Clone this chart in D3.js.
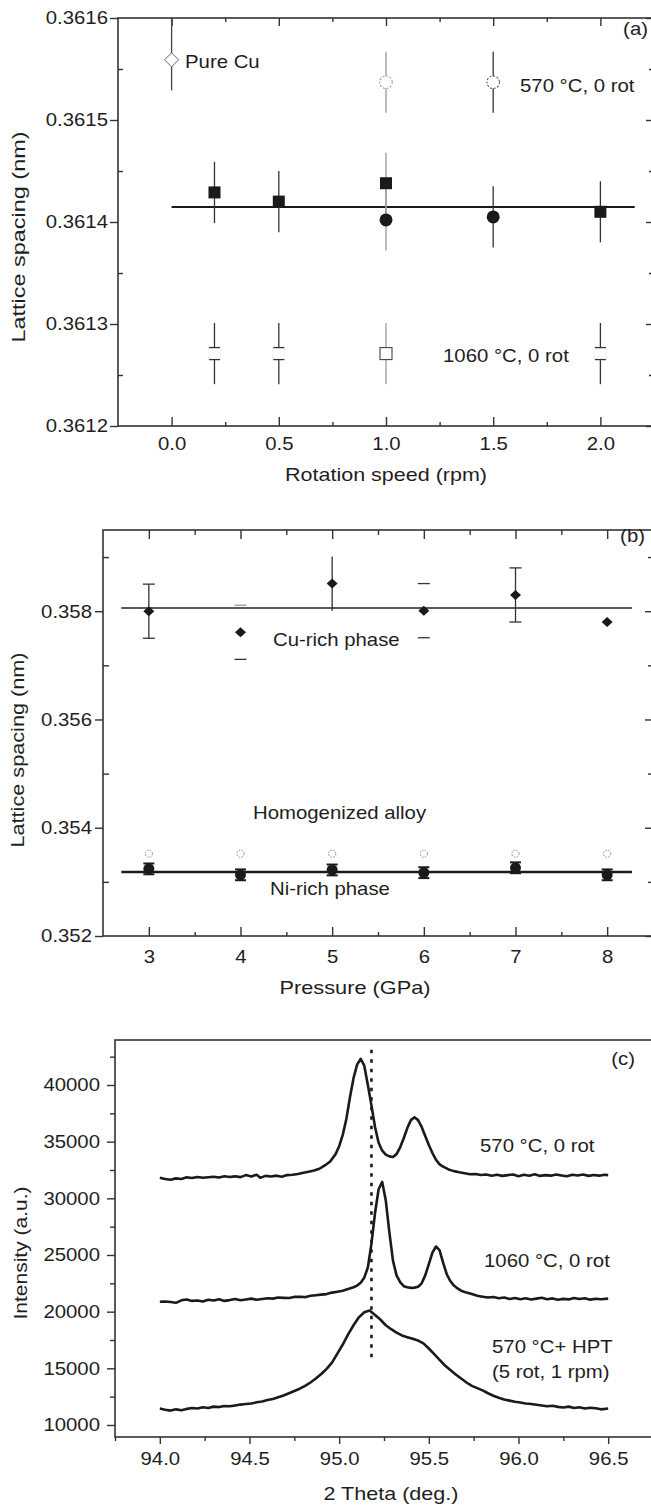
<!DOCTYPE html>
<html>
<head>
<meta charset="utf-8">
<script src="https://cdn.jsdelivr.net/npm/d3@7"></script>
<style>
body { margin: 0; background: #fff; }
svg text { font-family: "Liberation Sans", Arial, sans-serif; font-size: 18.5px; fill: #1e1e1e; }
</style>
</head>
<body>
<svg id="fig" width="651" height="1508"></svg>
<script>
// ---- panel (a) data : lattice spacing vs rotation speed
var aPureX = [0.0], aPureY = [0.361559], aPureErr = [0.00003]
var aSqX = [0.2, 0.5, 1.0, 2.0], aSqY = [0.361429, 0.36142, 0.361438, 0.36141], aSqErr = [0.00003, 0.00003, 0.00003, 0.00003]
var aCirX = [1.0, 1.5], aCirY = [0.361402, 0.361405], aCirErr = [0.00003, 0.00003]
var a570X = [1.0, 1.5], a570Y = [0.361537, 0.361537], a570Err = [0.00003, 0.00003]
var a1060X = [0.2, 0.5, 1.0, 2.0], a1060Y = [0.361271, 0.361271, 0.361271, 0.361271], a1060Err = [0.00003, 0.00003, 0.00003, 0.00003]
var aMean = 0.3614147, aMeanFrom = 0.0, aMeanTo = 2.16
var aYTicks = [0.3612, 0.3613, 0.3614, 0.3615, 0.3616]
var aXTicks = [0.0, 0.5, 1.0, 1.5, 2.0]

// ---- panel (b) data : lattice spacing vs pressure
var bP = [3, 4, 5, 6, 7, 8]
var bCu = [0.358, 0.35761, 0.35851, 0.35801, 0.3583, 0.3578]
var bCuErr = [0.0005, 0.0005, 0.0005, 0.0005, 0.0005, 0]
var bNi = [0.35324, 0.35313, 0.35322, 0.35317, 0.35326, 0.35313]
var bNiErr = [0.0001, 0.0001, 0.0001, 0.0001, 0.0001, 0.0001]
var bHom = [0.35352, 0.35352, 0.35352, 0.35352, 0.35352, 0.35352]
var bCuMean = 0.358059, bNiMean = 0.353182, bMeanFrom = 2.7, bMeanTo = 8.27
var bYTicks = [0.352, 0.354, 0.356, 0.358]

// ---- panel (c) data : XRD profiles [2 theta, intensity]
var xrd570 = [[94.00,31820],[94.03,31700],[94.06,31640],[94.09,31760],[94.12,31700],[94.15,31850],[94.18,31800],[94.21,31880],[94.24,31820],[94.27,31860],[94.30,31900],[94.33,31840],[94.36,31950],[94.39,31880],[94.42,31940],[94.45,31870],[94.48,32050],[94.51,31920],[94.54,32080],[94.56,31820],[94.59,31980],[94.62,31930],[94.65,32000],[94.68,31900],[94.71,32050],[94.74,32080],[94.77,32150],[94.80,32250],[94.83,32350],[94.86,32450],[94.89,32610],[94.92,32900],[94.95,33250],[94.98,33900],[95.00,34600],[95.02,35600],[95.04,37000],[95.06,38900],[95.08,40600],[95.10,41800],[95.12,42300],[95.14,41700],[95.16,40000],[95.18,38200],[95.20,36300],[95.22,34900],[95.24,34200],[95.26,33850],[95.28,33700],[95.30,33650],[95.32,33900],[95.34,34500],[95.36,35300],[95.38,36200],[95.40,36900],[95.42,37150],[95.44,36900],[95.46,36300],[95.48,35500],[95.50,34700],[95.52,34000],[95.54,33400],[95.56,33000],[95.58,32800],[95.61,32550],[95.64,32400],[95.67,32300],[95.70,32220],[95.73,32120],[95.76,32150],[95.79,32060],[95.82,32100],[95.85,32000],[95.88,32080],[95.91,31980],[95.94,32050],[95.97,32100],[96.00,31950],[96.03,32080],[96.06,32000],[96.09,32120],[96.12,31980],[96.15,32050],[96.18,32000],[96.21,32100],[96.24,32020],[96.27,31950],[96.30,32080],[96.33,32010],[96.36,32100],[96.39,31980],[96.42,32060],[96.45,32000],[96.48,32080],[96.50,32050]]
var xrd1060 = [[94.00,20880],[94.03,20900],[94.06,20850],[94.09,20780],[94.12,21000],[94.15,21080],[94.18,20950],[94.21,20980],[94.24,20900],[94.27,21050],[94.30,20980],[94.33,21100],[94.36,20950],[94.39,21020],[94.42,21120],[94.45,21000],[94.48,21080],[94.51,21150],[94.54,21050],[94.57,21120],[94.60,21180],[94.63,21150],[94.66,21250],[94.69,21220],[94.72,21200],[94.75,21300],[94.78,21320],[94.81,21280],[94.84,21400],[94.87,21450],[94.90,21500],[94.93,21550],[94.96,21680],[94.99,21760],[95.02,21850],[95.05,22000],[95.08,22150],[95.10,22300],[95.12,22550],[95.14,23000],[95.16,23900],[95.18,26000],[95.20,28700],[95.22,30800],[95.24,31450],[95.26,29800],[95.28,27000],[95.30,24500],[95.32,23200],[95.34,22600],[95.36,22250],[95.38,22150],[95.40,22100],[95.42,22120],[95.44,22200],[95.46,22500],[95.48,23200],[95.50,24200],[95.52,25200],[95.54,25750],[95.56,25400],[95.58,24300],[95.60,23300],[95.62,22700],[95.64,22300],[95.66,22050],[95.68,21850],[95.71,21680],[95.74,21550],[95.77,21400],[95.80,21320],[95.83,21250],[95.86,21300],[95.89,21180],[95.92,21250],[95.95,21120],[95.98,21200],[96.01,21100],[96.04,21180],[96.07,21080],[96.10,21150],[96.13,21220],[96.16,21100],[96.19,21170],[96.22,21050],[96.25,21130],[96.28,21080],[96.31,21200],[96.34,21120],[96.37,21180],[96.40,21060],[96.43,21140],[96.46,21100],[96.50,21150]]
var xrdHpt = [[94.00,11450],[94.03,11350],[94.06,11270],[94.09,11380],[94.12,11300],[94.15,11420],[94.18,11500],[94.21,11450],[94.24,11560],[94.27,11500],[94.30,11620],[94.33,11580],[94.36,11680],[94.39,11650],[94.42,11720],[94.45,11800],[94.48,11850],[94.51,11900],[94.54,12000],[94.57,12080],[94.60,12200],[94.63,12300],[94.66,12450],[94.69,12600],[94.72,12800],[94.75,13000],[94.78,13200],[94.81,13450],[94.84,13750],[94.87,14100],[94.90,14500],[94.93,14950],[94.96,15500],[94.99,16300],[95.02,17100],[95.05,18000],[95.08,18800],[95.11,19500],[95.14,19950],[95.17,20100],[95.20,19700],[95.23,19300],[95.26,18800],[95.29,18450],[95.32,18150],[95.35,17900],[95.38,17750],[95.41,17600],[95.44,17450],[95.47,17200],[95.50,16750],[95.53,16250],[95.56,15750],[95.59,15250],[95.62,14850],[95.65,14450],[95.68,14100],[95.71,13750],[95.74,13450],[95.77,13250],[95.80,13050],[95.83,12800],[95.86,12580],[95.89,12400],[95.92,12250],[95.95,12150],[95.98,12050],[96.01,11980],[96.04,11900],[96.07,11850],[96.10,11780],[96.13,11720],[96.16,11650],[96.19,11700],[96.22,11600],[96.25,11550],[96.28,11620],[96.31,11500],[96.34,11560],[96.37,11450],[96.40,11520],[96.43,11480],[96.46,11380],[96.50,11450]]
var cMarkX = 95.18, cMarkFrom = 15950, cMarkTo = 43100
var cXTicks = [94.0, 94.5, 95.0, 95.5, 96.0, 96.5]
var cYTicks = [10000, 15000, 20000, 25000, 30000, 35000, 40000]

var svg = d3.select('#fig')
var defs = svg.append('defs')
var ink = '#1a1a1a', axisCol = '#333'

function noDomain(g){ g.select('.domain').remove() }

function styleTicks(g){
  g.selectAll('.tick line').attr('stroke', axisCol).attr('stroke-width', 1.4)
}

function addAxis(g, axis, tx, ty){
  return g.append('g')
    .attr('transform', 'translate(' + tx + ',' + ty + ')')
    .call(axis).call(noDomain).call(styleTicks)
}

function frame(g, x0, y0, x1, y1){
  g.append('rect').attr('x', x0).attr('y', y0).attr('width', x1 - x0).attr('height', y1 - y0)
    .attr('fill', 'none').attr('stroke', axisCol).attr('stroke-width', 1.6)
}

function clip(id, x0, y0, x1, y1){
  defs.append('clipPath').attr('id', id).append('rect')
    .attr('x', x0).attr('y', y0).attr('width', x1 - x0).attr('height', y1 - y0)
}

function label(g, txt, x, y, anchor){
  return g.append('text').attr('x', x).attr('y', y).attr('text-anchor', anchor || 'start').text(txt)
}

function vline(g, x, y1, y2, col, w){
  g.append('line').attr('x1', x).attr('x2', x).attr('y1', y1).attr('y2', y2)
    .attr('stroke', col).attr('stroke-width', w)
}
function hline(g, x1, x2, y, col, w){
  g.append('line').attr('x1', x1).attr('x2', x2).attr('y1', y).attr('y2', y)
    .attr('stroke', col).attr('stroke-width', w)
}

// ================= panel (a)
var aL = 118, aT = 18, aR = 654, aB = 426
var ax = d3.scaleLinear().domain([-0.25, 2.25]).range([aL, aR])
var ay = d3.scaleLinear().domain([0.3612, 0.3616]).range([aB, aT])
var ga = svg.append('g')
clip('clipA', aL, aT, aR, aB)

addAxis(ga, d3.axisBottom(ax).tickValues(aXTicks).tickSize(-9).tickPadding(11).tickFormat(d3.format('.1f')), 0, aB)
addAxis(ga, d3.axisBottom(ax).tickValues([0.25, 0.75, 1.25, 1.75]).tickSize(-4).tickFormat(''), 0, aB)
addAxis(ga, d3.axisTop(ax).tickValues(aXTicks).tickSize(-8).tickFormat(''), 0, aT)
addAxis(ga, d3.axisTop(ax).tickValues([0.25, 0.75, 1.25, 1.75]).tickSize(-4).tickFormat(''), 0, aT)
addAxis(ga, d3.axisLeft(ay).tickValues(aYTicks).tickSize(8).tickPadding(2).tickFormat(d3.format('.4f')), aL, 0)
addAxis(ga, d3.axisLeft(ay).tickValues([0.36125, 0.36135, 0.36145, 0.36155]).tickSize(-5).tickFormat(''), aL, 0)
addAxis(ga, d3.axisRight(ay).tickValues(aYTicks).tickSize(-8).tickFormat(''), aR, 0)
addAxis(ga, d3.axisRight(ay).tickValues([0.36125, 0.36135, 0.36145, 0.36155]).tickSize(-5).tickFormat(''), aR, 0)
frame(ga, aL, aT, aR, aB)

var pa = ga.append('g').attr('clip-path', 'url(#clipA)')
hline(pa, ax(aMeanFrom), ax(aMeanTo), ay(aMean), ink, 2)

function errCol(x){ return x === 1.0 ? '#9a9a9a' : '#333' }

// error bars
aPureX.forEach(function(x, i){ vline(pa, ax(x), ay(aPureY[i] - aPureErr[i]), ay(aPureY[i] + aPureErr[i]) - 20, '#444', 1.3) })
aSqX.forEach(function(x, i){ vline(pa, ax(x), ay(aSqY[i] - aSqErr[i]), ay(aSqY[i] + aSqErr[i]), errCol(x), 1.3) })
aCirX.forEach(function(x, i){ vline(pa, ax(x), ay(aCirY[i] - aCirErr[i]), ay(aCirY[i] + aCirErr[i]), errCol(x), 1.3) })
a570X.forEach(function(x, i){ vline(pa, ax(x), ay(a570Y[i] - a570Err[i]), ay(a570Y[i] + a570Err[i]), errCol(x), 1.3) })
a1060X.forEach(function(x, i){ vline(pa, ax(x), ay(a1060Y[i] - a1060Err[i]), ay(a1060Y[i] + a1060Err[i]), errCol(x), 1.3) })

// markers
aPureX.forEach(function(x, i){
  var cx = ax(x), cy = ay(aPureY[i]), h = 7
  pa.append('path').attr('d', 'M' + (cx - h) + ',' + cy + 'L' + cx + ',' + (cy - h) + 'L' + (cx + h) + ',' + cy + 'L' + cx + ',' + (cy + h) + 'Z')
    .attr('fill', '#fff').attr('stroke', '#666').attr('stroke-width', 1)
})
aSqX.forEach(function(x, i){
  pa.append('rect').attr('x', ax(x) - 6).attr('y', ay(aSqY[i]) - 6).attr('width', 12).attr('height', 12).attr('fill', ink)
})
aCirX.forEach(function(x, i){
  pa.append('circle').attr('cx', ax(x)).attr('cy', ay(aCirY[i])).attr('r', 6.5).attr('fill', ink)
})
a570X.forEach(function(x, i){
  pa.append('circle').attr('cx', ax(x)).attr('cy', ay(a570Y[i])).attr('r', 6.3)
    .attr('fill', '#fff').attr('stroke', x === 1.0 ? '#999' : '#555').attr('stroke-width', 1.1).attr('stroke-dasharray', '2,1.6')
})
a1060X.forEach(function(x, i){
  var cx = ax(x), cy = ay(a1060Y[i]), h = 6
  pa.append('rect').attr('x', cx - h).attr('y', cy - h).attr('width', 2 * h).attr('height', 2 * h)
    .attr('fill', '#fff').attr('stroke', x === 1.0 ? '#444' : '#f2f2f2').attr('stroke-width', 1.1)
  if (x !== 1.0) {
    hline(pa, cx - 5.5, cx + 5.5, cy - h, '#333', 1.3)
    hline(pa, cx - 5.5, cx + 5.5, cy + h, '#333', 1.3)
  }
})

label(ga, 'Pure Cu', 185, 68)
label(ga, '570 °C, 0 rot', 520, 92)
label(ga, '1060 °C, 0 rot', 443, 362)
label(ga, '(a)', 648, 35, 'end')
label(ga, 'Rotation speed (rpm)', 386, 481, 'middle').attr('data-w', 202)
ga.append('text').attr('transform', 'translate(25,237) rotate(-90)').attr('text-anchor', 'middle')
  .attr('data-w', 211).text('Lattice spacing (nm)')

// ================= panel (b)
var bL = 103, bT = 530, bR = 653, bB = 936
var bx = d3.scaleLinear().domain([2.5, 8.5]).range([bL, bR])
var by = d3.scaleLinear().domain([0.352, 0.3595]).range([bB, bT])
var gb = svg.append('g')
clip('clipB', bL, bT, bR, bB)

addAxis(gb, d3.axisBottom(bx).tickValues(bP).tickSize(-9).tickPadding(14).tickFormat(d3.format('d')), 0, bB)
addAxis(gb, d3.axisBottom(bx).tickValues([3.5, 4.5, 5.5, 6.5, 7.5]).tickSize(-4).tickFormat(''), 0, bB)
addAxis(gb, d3.axisTop(bx).tickValues(bP).tickSize(-9).tickFormat(''), 0, bT)
addAxis(gb, d3.axisTop(bx).tickValues([3.5, 4.5, 5.5, 6.5, 7.5]).tickSize(-5).tickFormat(''), 0, bT)
addAxis(gb, d3.axisLeft(by).tickValues(bYTicks).tickSize(8).tickPadding(3).tickFormat(d3.format('.3f')), bL, 0)
addAxis(gb, d3.axisLeft(by).tickValues([0.353, 0.355, 0.357, 0.359]).tickSize(-6).tickFormat(''), bL, 0)
addAxis(gb, d3.axisRight(by).tickValues(bYTicks).tickSize(-8).tickFormat(''), bR, 0)
addAxis(gb, d3.axisRight(by).tickValues([0.353, 0.355, 0.357, 0.359]).tickSize(-5).tickFormat(''), bR, 0)
frame(gb, bL, bT, bR, bB)

var pb = gb.append('g').attr('clip-path', 'url(#clipB)')
hline(pb, bx(bMeanFrom), bx(bMeanTo), by(bCuMean), '#222', 1.4)
hline(pb, bx(bMeanFrom), bx(bMeanTo), by(bNiMean), ink, 2.4)

// Cu-rich error bars: some show only caps, one shows no caps
var capsOnly = { 4: true, 6: true }, noCaps = { 5: true }
bP.forEach(function(p, i){
  if (!bCuErr[i]) return
  var cx = bx(p), y1 = by(bCu[i] + bCuErr[i]), y2 = by(bCu[i] - bCuErr[i])
  if (!capsOnly[p]) vline(pb, cx, y1, y2, '#333', 1.3)
  if (!noCaps[p]) {
    hline(pb, cx - 6, cx + 6, y1, p === 4 ? '#999' : '#333', 1.3)
    hline(pb, cx - 6, cx + 6, y2, '#333', 1.3)
  }
})
bP.forEach(function(p, i){
  var cx = bx(p), y1 = by(bNi[i] + bNiErr[i]), y2 = by(bNi[i] - bNiErr[i])
  vline(pb, cx, y1, y2, ink, 2)
  hline(pb, cx - 5.5, cx + 5.5, y1, ink, 2)
  hline(pb, cx - 5.5, cx + 5.5, y2, ink, 2)
})
bP.forEach(function(p, i){
  var cx = bx(p), cy = by(bCu[i])
  pb.append('path').attr('d', 'M' + (cx - 5.5) + ',' + cy + 'L' + cx + ',' + (cy - 5) + 'L' + (cx + 5.5) + ',' + cy + 'L' + cx + ',' + (cy + 5) + 'Z')
    .attr('fill', ink)
  pb.append('circle').attr('cx', cx).attr('cy', by(bNi[i])).attr('r', 5.5).attr('fill', ink)
  pb.append('circle').attr('cx', cx).attr('cy', by(bHom[i])).attr('r', 3.6)
    .attr('fill', '#fff').attr('stroke', '#8a8a8a').attr('stroke-width', 1).attr('stroke-dasharray', '1.6,1.3')
})

label(gb, 'Cu-rich phase', 273, 646)
label(gb, 'Homogenized alloy', 253, 819)
label(gb, 'Ni-rich phase', 270, 895)
label(gb, '(b)', 645, 542, 'end')
label(gb, 'Pressure (GPa)', 355, 994, 'middle').attr('data-w', 151)
gb.append('text').attr('transform', 'translate(24,750) rotate(-90)').attr('text-anchor', 'middle')
  .attr('data-w', 195).text('Lattice spacing (nm)')

// ================= panel (c)
var cL = 115, cT = 1040, cR = 653, cB = 1437
var cx = d3.scaleLinear().domain([93.75, 96.75]).range([cL, cR])
var cy = d3.scaleLinear().domain([8940, 43970]).range([cB, cT])
var gc = svg.append('g')
clip('clipC', cL, cT, cR, cB)

addAxis(gc, d3.axisBottom(cx).tickValues(cXTicks).tickSize(7).tickPadding(8).tickFormat(d3.format('.1f')), 0, cB)
addAxis(gc, d3.axisBottom(cx).tickValues([93.75, 94.25, 94.75, 95.25, 95.75, 96.25]).tickSize(4).tickFormat(''), 0, cB)
addAxis(gc, d3.axisLeft(cy).tickValues(cYTicks).tickSize(8).tickPadding(7).tickFormat(d3.format('d')), cL, 0)
addAxis(gc, d3.axisLeft(cy).tickValues([12500, 17500, 22500, 27500, 32500, 37500, 42500]).tickSize(5).tickFormat(''), cL, 0)
frame(gc, cL, cT, cR, cB)

var pc = gc.append('g').attr('clip-path', 'url(#clipC)')
var xrdLine = d3.line().x(function(d){ return cx(d[0]) }).y(function(d){ return cy(d[1]) })
;[xrd570, xrd1060, xrdHpt].forEach(function(s){
  pc.append('path').datum(s).attr('d', xrdLine).attr('fill', 'none')
    .attr('stroke', ink).attr('stroke-width', 2.6).attr('stroke-linejoin', 'round')
})
pc.append('line').attr('x1', cx(cMarkX)).attr('x2', cx(cMarkX)).attr('y1', cy(cMarkTo)).attr('y2', cy(cMarkFrom))
  .attr('stroke', ink).attr('stroke-width', 2.6).attr('stroke-dasharray', '3.5,6')

label(gc, '570 °C, 0 rot', 480, 1152)
label(gc, '1060 °C, 0 rot', 484, 1267)
label(gc, '570 °C+ HPT', 492, 1353)
label(gc, '(5 rot, 1 rpm)', 492, 1378)
label(gc, '(c)', 635, 1065, 'end')
label(gc, '2 Theta (deg.)', 391, 1500, 'middle').attr('data-w', 135)
gc.append('text').attr('transform', 'translate(27,1253) rotate(-90)').attr('text-anchor', 'middle')
  .attr('data-w', 133).text('Intensity (a.u.)')

// the scanned figure's lettering is a little wider than Liberation Sans
svg.selectAll('text').each(function(){
  var w = this.getAttribute('data-w')
  var len = w ? +w : this.getComputedTextLength() * 1.1
  d3.select(this).attr('textLength', len).attr('lengthAdjust', 'spacingAndGlyphs')
})
</script>
</body>
</html>
